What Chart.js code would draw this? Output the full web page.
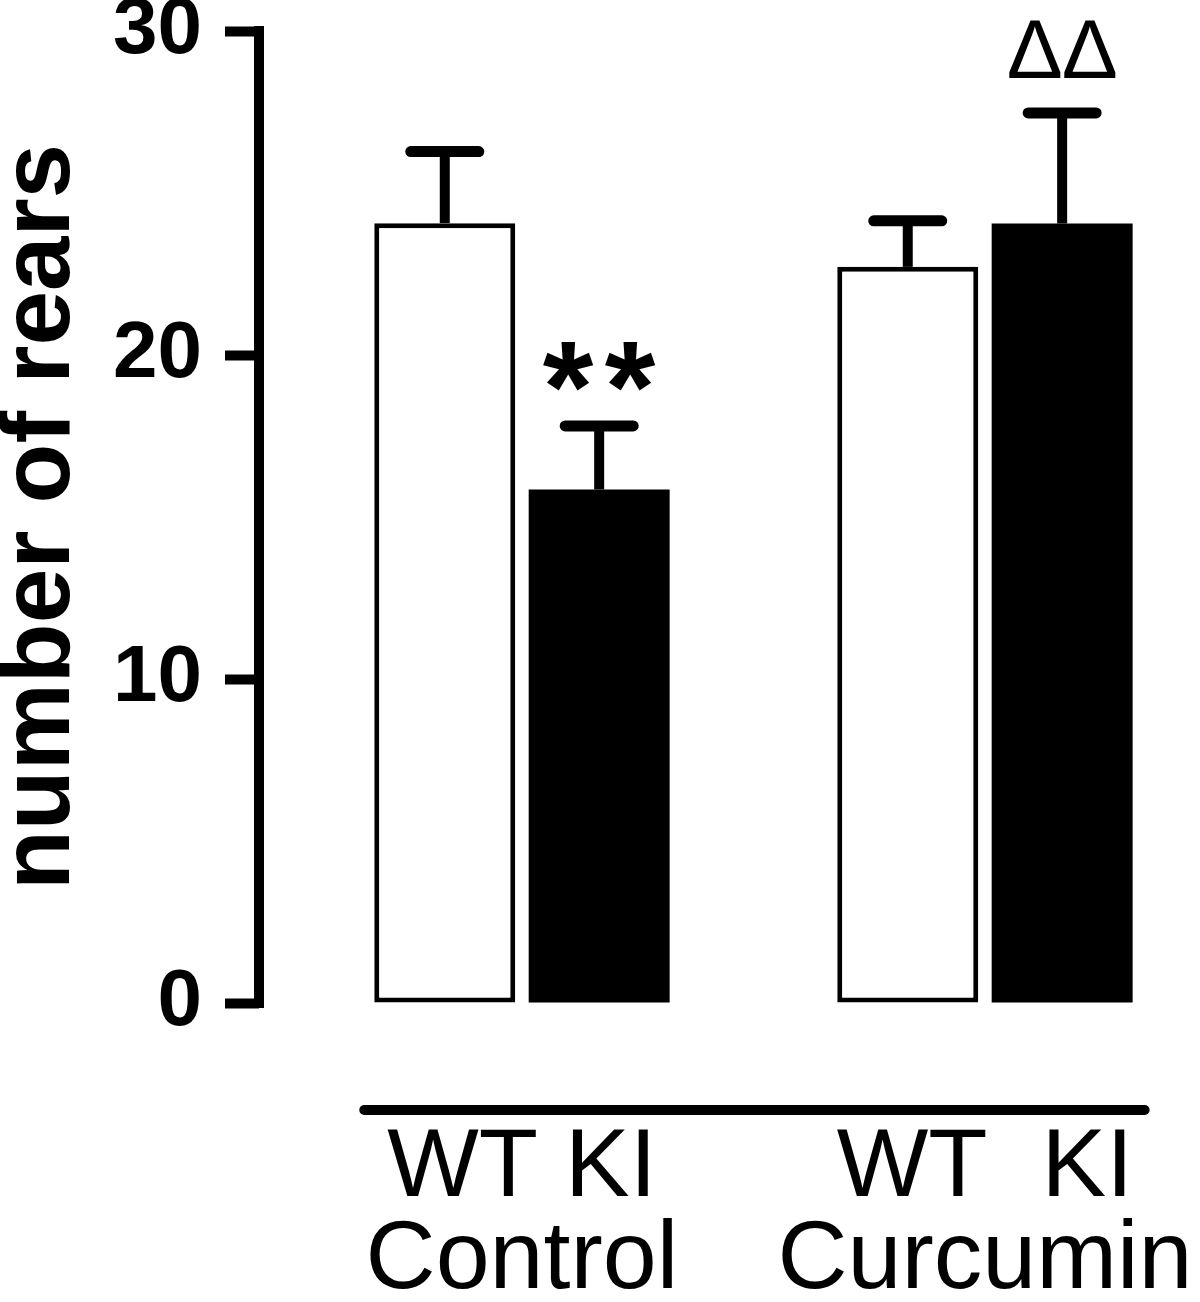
<!DOCTYPE html>
<html><head><meta charset="utf-8">
<script src="https://cdn.jsdelivr.net/npm/chart.js@4/dist/chart.umd.min.js"></script>
<style>html,body{margin:0;padding:0;background:#fff;overflow:hidden}#wrap{width:1200px;height:1302px;position:relative}</style>
</head><body><div id="wrap"><canvas id="c" width="1200" height="1302"></canvas></div>
<script>
// ---- data ----
const groups = ['Control', 'Curcumin'];
const genotypeLabels = ['WT KI', 'WT  KI'];
const seriesNames = ['WT', 'KI'];
const wtMeans = [24.07, 22.72];
const kiMeans = [15.85, 24.06];
const wtSem = [2.21, 1.42];
const kiSem = [1.96, 3.41];
const wtMarks = ['', ''];
const kiMarks = ['**', 'ΔΔ'];
const yTicks = [0, 10, 20, 30];
const yTitle = 'number of rears';

// ---- styling / layout ----
const FONT = "'Liberation Sans', Arial, Helvetica, sans-serif";
const X_START = -0.568, X_RANGE = 2.0325; // visible category window
const MARK_STYLE = {
  '*': {font: "bold 130px 'Liberation Sans', Arial, sans-serif", gap: 11},
  'Δ': {font: "84px 'Liberation Sans', Arial, sans-serif", gap: 3}
};
Chart.defaults.color = '#000';

function drawMarker(ctx, text, cx, bottomY) {
  const st = MARK_STYLE[text[0]];
  ctx.font = st.font; ctx.fillStyle = '#000';
  ctx.textBaseline = 'alphabetic'; ctx.textAlign = 'left';
  const chars = Array.from(text);
  const ms = chars.map(c => ctx.measureText(c));
  const widths = ms.map(m => m.actualBoundingBoxLeft + m.actualBoundingBoxRight);
  const total = widths.reduce((a, b) => a + b, 0) + st.gap * (chars.length - 1);
  let x = cx - total / 2;
  chars.forEach((c, k) => {
    const m = ms[k];
    ctx.fillText(c, x + m.actualBoundingBoxLeft, bottomY - m.actualBoundingBoxDescent);
    x += widths[k] + st.gap;
  });
}

const overlay = {
  id: 'overlay',
  afterDatasetsDraw(chart) {
    const {ctx, chartArea, scales: {y}} = chart;
    ctx.save();
    ctx.strokeStyle = '#000';
    // y axis line
    ctx.lineWidth = 10; ctx.lineCap = 'butt';
    ctx.beginPath();
    ctx.moveTo(chartArea.left, y.top - 5);
    ctx.lineTo(chartArea.left, y.bottom + 5);
    ctx.stroke();
    let firstLeft = Infinity, lastRight = -Infinity;
    chart.data.datasets.forEach((ds, di) => {
      const meta = chart.getDatasetMeta(di);
      meta.data.forEach((bar, i) => {
        firstLeft = Math.min(firstLeft, bar.x - bar.width / 2);
        lastRight = Math.max(lastRight, bar.x + bar.width / 2);
        const top = y.getPixelForValue(ds.data[i] + ds.sem[i]);
        ctx.lineWidth = 10; ctx.lineCap = 'butt';
        ctx.beginPath(); ctx.moveTo(bar.x, bar.y); ctx.lineTo(bar.x, top); ctx.stroke();
        ctx.lineWidth = 11; ctx.lineCap = 'round';
        ctx.beginPath(); ctx.moveTo(bar.x - 34, top); ctx.lineTo(bar.x + 34, top); ctx.stroke();
        if (ds.marks[i]) drawMarker(ctx, ds.marks[i], bar.x, top - 5.5 - 29);
      });
    });
    // group underline
    const ly = chartArea.bottom + 107;
    ctx.lineWidth = 10; ctx.lineCap = 'round';
    ctx.beginPath(); ctx.moveTo(firstLeft - 10, ly); ctx.lineTo(lastRight + 12, ly); ctx.stroke();
    ctx.restore();
  }
};

new Chart(document.getElementById('c').getContext('2d'), {
  type: 'bar',
  data: {
    labels: groups.map((g, i) => [genotypeLabels[i], g]),
    datasets: [
      {label: seriesNames[0], data: wtMeans, sem: wtSem, marks: wtMarks,
       backgroundColor: '#fff', borderColor: '#000', borderWidth: 5, borderSkipped: false},
      {label: seriesNames[1], data: kiMeans, sem: kiSem, marks: kiMarks,
       backgroundColor: '#000', borderColor: '#000', borderWidth: 0, borderSkipped: false}
    ]
  },
  options: {
    responsive: false, animation: false, devicePixelRatio: 1,
    layout: {padding: {left: 0, right: 0, top: 31, bottom: 0}},
    plugins: {legend: {display: false}, tooltip: {enabled: false}},
    datasets: {bar: {categoryPercentage: 0.667, barPercentage: 0.913}},
    scales: {
      x: {
        type: 'category', offset: true,
        grid: {display: true, drawOnChartArea: false, drawTicks: true, tickLength: 121, tickColor: 'rgba(0,0,0,0)'},
        border: {display: false},
        ticks: {padding: 0, color: '#000', maxRotation: 0, minRotation: 0, autoSkip: false,
                font: {family: FONT, size: 97, lineHeight: 0.94}},
        afterBuildTicks: s => { s._startValue = X_START; s._valueRange = X_RANGE; },
        afterFit: s => { s.height = 299; }
      },
      y: {
        min: yTicks[0], max: yTicks[yTicks.length - 1],
        afterBuildTicks: s => { s.ticks = yTicks.map(v => ({value: v})); },
        grid: {drawOnChartArea: false, drawTicks: true, tickLength: 34, tickWidth: 10, tickColor: '#000'},
        border: {display: false},
        ticks: {padding: 23, color: '#000', font: {family: FONT, size: 80, weight: 'bold', lineHeight: 0.1}},
        title: {display: true, text: yTitle, color: '#000', padding: 0,
                font: {family: FONT, size: 98, weight: 'bold', lineHeight: 0.86}},
        afterFit: s => { s.width = 259; }
      }
    }
  },
  plugins: [overlay]
});
</script></body></html>
